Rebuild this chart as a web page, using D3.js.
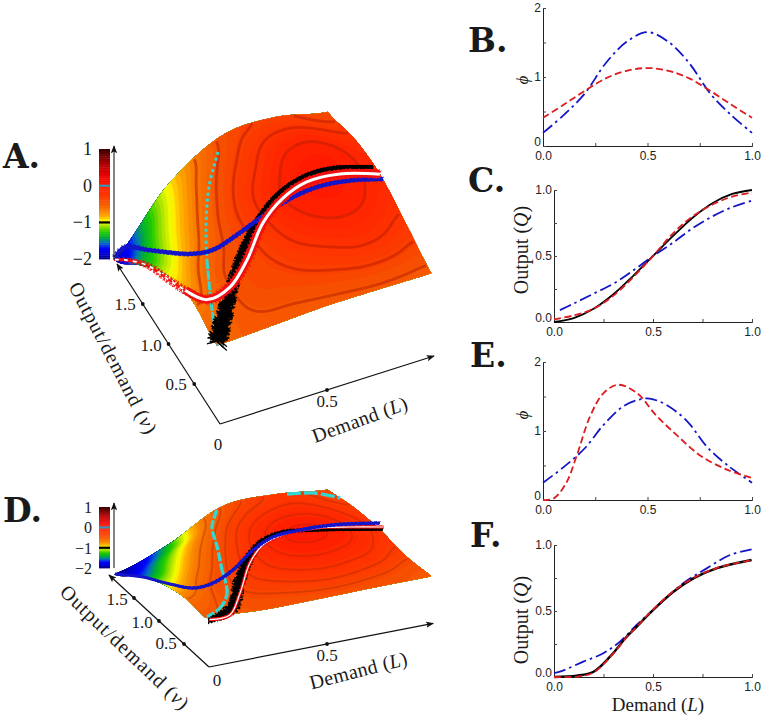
<!DOCTYPE html>
<html>
<head>
<meta charset="utf-8">
<script src="https://cdn.jsdelivr.net/npm/d3@7"></script>
<style>
  html, body { margin: 0; padding: 0; background: #fff; }
  svg { display: block; }
  text { fill: #1a1a1a; }
</style>
</head>
<body>
<svg width="762" height="716"></svg>
<script>
// ---- colour map of the two surfaces
const colorStops = [-2, -1.85, -1.7, -1.55, -1.4, -1.25, -1.1, -0.95, -0.85, -0.7, -0.47, -0.33, -0.2, -0.05, 0.05, 0.3, 0.6, 1];
const colorHex = ['#00006e', '#0000d8', '#0000ff', '#0070c0', '#00b030', '#22cc00', '#a0e000', '#ffff00',
                  '#ffb800', '#f98200', '#f65600', '#fa4000', '#ff3200', '#ff2400', '#ff1600', '#e80000', '#b00000', '#3c0000'];

// ---- panel A surface, rows go with nu, columns with L. height is above the -2 floor
const aHeight = [
  [2.03, 2.09, 2.16, 2.16, 2.14],
  [2.2, 2.5, 2.7, 2.65, 2.42],
  [1.8, 2.6, 3.0, 3.0, 2.66],
  [0.95, 2.1, 2.85, 2.95, 2.55],
  [0, 1.55, 2.43, 2.48, 2.16]
];
const aColor = [
  [-0.5, -0.5, -0.5, -0.5, -0.5, -0.5, -0.5, -0.5, -0.5],
  [-0.62, -0.5, -0.4, -0.37, -0.31, -0.26, -0.22, -0.25, -0.33],
  [-0.85, -0.52, -0.42, -0.3, -0.14, -0.06, -0.04, -0.08, -0.18],
  [-1.05, -0.72, -0.46, -0.27, -0.08, 0, 0.03, -0.02, -0.1],
  [-1.32, -0.92, -0.6, -0.36, -0.2, -0.05, -0.01, -0.03, -0.12],
  [-1.6, -1.15, -0.78, -0.5, -0.33, -0.2, -0.14, -0.17, -0.24],
  [-2, -1.42, -0.95, -0.66, -0.43, -0.35, -0.33, -0.36, -0.42]
];

// panel A trajectories
const aRedL = [0, 0, 0, 0, 0.01, 0.06, 0.171, 0.277, 0.408, 0.535, 0.668, 0.83, 1];
const aRedNu = [2.04, 1.85, 1.42, 0.97, 0.72, 0.5, 0.517, 0.627, 0.864, 1.0, 1.09, 1.12, 1.05];
const aRedH = [0.03, 0.44, 1.24, 1.8, 2.07, 2.2, 2.3, 2.6, 2.85, 3, 3, 2.85, 2.68];
const aRedSpread = [3, 5, 7, 8, 9, 11, 12, 12, 11, 10, 10, 10, 10];
const aBlueL = [0, 0, 0.008, 0.108, 0.18, 0.305, 0.444, 0.577, 0.709, 0.86, 1];
const aBlueNu = [2.04, 1.845, 1.39, 1.03, 0.884, 0.878, 0.934, 0.978, 1.003, 0.993, 0.99];
const aBlueH = [0.08, 0.8, 1.7, 2.2, 2.5, 2.75, 2.9, 3, 3, 2.9, 2.68];
const aBlueSpread = [7, 6, 5, 5, 5, 5, 5, 5, 5, 5, 5];
const aBlackL = [0.01, 0.075, 0.188, 0.286, 0.412, 0.539, 0.686, 0.813, 0.993];
const aBlackNu = [0.09, 0.254, 0.53, 0.744, 0.937, 1.073, 1.16, 1.183, 1.158];
const aBlackH = [2.03, 2.15, 2.35, 2.6, 2.85, 3, 3, 2.9, 2.65];
const aBlackSpread = [22, 19, 14, 10, 7, 5, 5, 5, 4];
const aCyanL = [0.453, 0.33, 0.208, 0.149, 0.088, 0.049, 0.005];
const aCyanNu = [1.92, 1.586, 1.138, 0.872, 0.559, 0.338, 0.058];
const aCyanH = [2.4, 2.4, 2.35, 2.3, 2.2, 2.1, 2.03];

// ---- panel D surface
const dHeight = [
  [2.28, 2.1, 2.1, 2.13, 2.13],
  [2.3, 2.25, 2.45, 2.4, 2.15],
  [1.93, 2.5, 2.85, 2.8, 2.45],
  [1.26, 2.2, 2.8, 2.8, 2.54],
  [0.32, 1.25, 2.6, 2.69, 2.41]
];
const dColor = [
  [-0.48, -0.47, -0.46, -0.45, -0.44, -0.44, -0.45, -0.46, -0.48],
  [-0.58, -0.46, -0.38, -0.33, -0.27, -0.24, -0.27, -0.33, -0.42],
  [-0.88, -0.52, -0.36, -0.22, -0.12, -0.08, -0.1, -0.16, -0.3],
  [-1.15, -0.75, -0.45, -0.25, -0.05, 0.03, 0.02, -0.08, -0.22],
  [-1.6, -1.05, -0.62, -0.36, -0.15, -0.04, -0.03, -0.1, -0.24],
  [-1.85, -1.45, -0.92, -0.52, -0.32, -0.2, -0.15, -0.2, -0.32],
  [-2, -1.8, -1.38, -0.75, -0.48, -0.36, -0.25, -0.27, -0.4]
];

// panel D trajectories
const dRedL = [0.005, 0.109, 0.223, 0.363, 0.463, 0.559, 0.71, 0.845, 0.98];
const dRedNu = [0.01, 0.095, 0.417, 0.849, 1.035, 1.071, 1.077, 1.035, 0.991];
const dRedH = [2.3, 2.1, 2.2, 2.4, 2.65, 2.85, 2.85, 2.7, 2.5];
const dRedSpread = [4, 4, 4, 4, 4, 3, 3, 3, 3];
const dBlueL = [0, 0, 0.01, 0.068, 0.155, 0.274, 0.415, 0.52, 0.642, 0.784, 0.985];
const dBlueNu = [1.88, 1.32, 0.89, 0.635, 0.637, 0.783, 1.015, 1.089, 1.1, 1.095, 1.074];
const dBlueH = [0.32, 1.44, 2.09, 2.3, 2.35, 2.4, 2.55, 2.8, 2.85, 2.8, 2.5];
const dBlueSpread = [2, 2, 2.5, 3.5, 4, 4, 4, 4, 4, 4, 4];
const dBlackL = [0, 0.151, 0.27, 0.442, 0.556, 0.701, 0.969];
const dBlackNu = [0, 0.228, 0.633, 1.056, 1.117, 1.042, 0.956];
const dBlackH = [2.28, 2.1, 2.25, 2.55, 2.85, 2.85, 2.5];
const dBlackSpread = [6, 14, 13, 9, 5, 3.5, 3.5];
const dCyanL = [0.459, 0.373, 0.308, 0.235, 0.173, 0.094, 0.007];
const dCyanNu = [1.878, 1.609, 1.233, 0.821, 0.444, 0.218, 0.073];
const dCyanH = [2.5, 2.45, 2.45, 2.4, 2.25, 2.2, 2.28];
const dCyanTopL = [0.771, 0.881, 0.964];
const dCyanTopNu = [1.862, 1.804, 1.681];
const dCyanTopH = [2.66, 2.6, 2.45];

// ---- 2d panels
const bL = [0, 0.1, 0.2, 0.3, 0.4, 0.5, 0.6, 0.7, 0.8, 0.9, 1];
const bBlue = [0.19, 0.45, 0.76, 1.2, 1.51, 1.65, 1.51, 1.2, 0.76, 0.45, 0.19];
const bRed = [0.41, 0.6, 0.8, 0.98, 1.09, 1.13, 1.09, 0.98, 0.8, 0.6, 0.41];

const cL = [0, 0.1, 0.2, 0.3, 0.4, 0.5, 0.6, 0.7, 0.8, 0.9, 1];
const cBlack = [0, 0.03, 0.1, 0.21, 0.35, 0.5, 0.65, 0.79, 0.9, 0.97, 1];
const cRed = [0.02, 0.05, 0.1, 0.2, 0.34, 0.5, 0.67, 0.8, 0.89, 0.95, 0.98];
const cBlueL = [0.03, 0.1, 0.2, 0.3, 0.4, 0.5, 0.6, 0.7, 0.8, 0.9, 1];
const cBlue = [0.09, 0.14, 0.215, 0.29, 0.39, 0.5, 0.6, 0.71, 0.8, 0.87, 0.92];

const eRedL = [0, 0.05, 0.11, 0.16, 0.225, 0.29, 0.36, 0.45, 0.54, 0.64, 0.75, 0.88, 1];
const eRed = [0, 0.02, 0.24, 0.63, 1.21, 1.55, 1.67, 1.55, 1.23, 0.94, 0.65, 0.44, 0.32];
const eBlueL = [0, 0.1, 0.2, 0.29, 0.385, 0.465, 0.51, 0.59, 0.69, 0.785, 0.88, 1];
const eBlue = [0.25, 0.48, 0.75, 1.09, 1.36, 1.46, 1.47, 1.38, 1.14, 0.77, 0.51, 0.25];

const fL = [0, 0.115, 0.2, 0.283, 0.367, 0.417, 0.5, 0.603, 0.704, 0.82, 0.998];
const fBlack = [0, 0.01, 0.04, 0.154, 0.305, 0.38, 0.507, 0.646, 0.747, 0.823, 0.886];
const fRedL = [0, 0.13, 0.2, 0.283, 0.367, 0.417, 0.5, 0.603, 0.704, 0.82, 0.998];
const fRed = [0, 0.005, 0.035, 0.15, 0.3, 0.38, 0.51, 0.65, 0.75, 0.825, 0.885];
const fBlueL = [0, 0.03, 0.148, 0.249, 0.333, 0.417, 0.5, 0.653, 0.771, 0.889, 0.998];
const fBlue = [0.03, 0.04, 0.116, 0.18, 0.268, 0.394, 0.507, 0.71, 0.823, 0.924, 0.967];

const phiTicks = [0, 0.5, 1, 1.5, 2];
const qTicks = [0, 0.25, 0.5, 0.75, 1];
const lTicks = [0, 0.25, 0.5, 0.75, 1];
const nuTicks = [0.5, 1, 1.5];
const barLabels = [1, 0, -1, -2];

const SERIF = '"Liberation Serif", "DejaVu Serif", serif';
const SANS = '"Liberation Sans", Arial, sans-serif';
const RED = '#dc1c20', BLUE = '#1414c8', CYAN = '#33d6d0';

const svg = d3.select('svg');
const defs = svg.append('defs');
defs.append('marker')
    .attr('id', 'arrow')
    .attr('viewBox', '0 0 10 10')
    .attr('refX', 9).attr('refY', 5)
    .attr('markerWidth', 8).attr('markerHeight', 8)
    .attr('markerUnits', 'userSpaceOnUse')
    .attr('orient', 'auto')
  .append('path')
    .attr('d', 'M0,1 L10,5 L0,9 L2,5 Z')
    .attr('fill', '#111');

const colorScale = d3.scaleLinear().domain(colorStops).range(colorHex).clamp(true);

// catmull-rom through a grid of read values, u and v in 0..1
function catmull(a, b, c, d, t) {
  return 0.5 * (2 * b + (c - a) * t + (2 * a - 5 * b + 4 * c - d) * t * t + (3 * b - a - 3 * c + d) * t * t * t);
}
function sampleGrid(grid, u, v) {
  const rows = grid.length, cols = grid[0].length;
  const fx = Math.min(u * (cols - 1), cols - 1.0001), fy = Math.min(v * (rows - 1), rows - 1.0001);
  const ix = Math.floor(fx), iy = Math.floor(fy);
  const at = (r, c) => grid[Math.max(0, Math.min(rows - 1, r))][Math.max(0, Math.min(cols - 1, c))];
  const row = r => catmull(at(r, ix - 1), at(r, ix), at(r, ix + 1), at(r, ix + 2), fx - ix);
  return catmull(row(iy - 1), row(iy), row(iy + 1), row(iy + 2), fy - iy);
}

function surfacePanel(p) {
  const g = svg.append('g');
  const lX = d3.scaleLinear([0, 1], [0, p.lVec[0]]);
  const lY = d3.scaleLinear([0, 1], [0, p.lVec[1]]);
  const nuX = d3.scaleLinear([0, 1], [0, p.nuVec[0]]);
  const nuY = d3.scaleLinear([0, 1], [0, p.nuVec[1]]);
  const hY = d3.scaleLinear([0, 3], [0, -3 * p.zUnit]);
  const project = (L, nu, h) => {
    const a = L * (1 - p.persp * nu);
    return [p.ox + lX(a) + nuX(nu), p.oy + lY(a) + nuY(nu) + hY(h)];
  };

  // surface, filled contour bands
  const nx = 150, ny = 120;
  const values = new Float64Array(nx * ny);
  for (let j = 0; j < ny; j++) {
    for (let i = 0; i < nx; i++) {
      values[i + j * nx] = sampleGrid(p.color, i / (nx - 1), j / (ny - 1));
    }
  }
  d3.blur2({ data: values, width: nx, height: ny }, p.blur);
  const toSurface = (cx, cy) => {
    const u = Math.max(0, Math.min(1, (cx - 0.5) / (nx - 1)));
    const v = Math.max(0, Math.min(1, (cy - 0.5) / (ny - 1)));
    return project(p.lRange[0] + u * (p.lRange[1] - p.lRange[0]),
                   p.nuRange[0] + v * (p.nuRange[1] - p.nuRange[0]),
                   sampleGrid(p.height, u, v));
  };
  const geo = d3.geoPath(d3.geoTransform({
    point(x, y) { const q = toSurface(x, y); this.stream.point(q[0], q[1]); }
  }));
  const bandTs = d3.range(-2.6, 1, 0.05);
  const bands = d3.contours().size([nx, ny]).thresholds(bandTs)(values);
  g.append('g').selectAll('path').data(bands).join('path')
      .attr('d', geo)
      .attr('fill', d => colorScale(d.value + 0.025))
      .attr('stroke', d => colorScale(d.value + 0.025))
      .attr('stroke-width', 0.3);

  // darker iso lines, without the part that runs along the edge of the surface
  const isoLine = d3.line();
  const iso = d3.contours().size([nx, ny]).thresholds(p.isoLevels)(values);
  const isoG = g.append('g').attr('fill', 'none')
      .attr('stroke', p.isoColor).attr('stroke-width', p.isoWidth).attr('stroke-linejoin', 'round');
  iso.forEach(level => {
    level.coordinates.forEach(poly => poly.forEach(ring => {
      const inside = q => q[0] > 0.6 && q[0] < nx - 0.6 && q[1] > 0.6 && q[1] < ny - 0.6;
      let runs = [], run = [];
      ring.forEach(q => {
        if (inside(q)) run.push(toSurface(q[0], q[1]));
        else { if (run.length > 1) runs.push(run); run = []; }
      });
      if (run.length > 1) runs.push(run);
      runs.forEach(r => isoG.append('path').attr('d', isoLine(r)));
    }));
  });

  // trajectories
  const curve = d3.line().curve(d3.curveCatmullRom.alpha(0.5));
  const pts = (L, nu, h) => L.map((d, i) => project(d, nu[i], h[i]));
  const hairy = (points, spread, color, sw, step) => {
    const guide = g.append('path').attr('d', curve(points)).attr('fill', 'none').attr('stroke', 'none');
    const node = guide.node(), len = node.getTotalLength();
    const chord = [0];
    points.slice(1).forEach((q, i) => chord.push(chord[i] + Math.hypot(q[0] - points[i][0], q[1] - points[i][1])));
    const widthAt = d3.scaleLinear().domain(chord.map(c => c / chord[chord.length - 1] * len)).range(spread);
    let d = '', k = 0;
    const tilt = [-0.55, 0.25, 0.6, -0.2], reach = [1, 0.72, 0.9, 0.62, 0.95];
    for (let s = 0; s < len; s += step, k++) {
      const a = node.getPointAtLength(s), b = node.getPointAtLength(Math.min(len, s + 0.5));
      const dx = b.x - a.x, dy = b.y - a.y, n = Math.hypot(dx, dy) || 1;
      const t = tilt[k % 4], w = widthAt(s) / 2 * reach[k % 5];
      const mx = -dy / n + t * dx / n, my = dx / n + t * dy / n;
      d += `M${(a.x - mx * w).toFixed(1)},${(a.y - my * w).toFixed(1)}L${(a.x + mx * w).toFixed(1)},${(a.y + my * w).toFixed(1)}`;
    }
    guide.remove();
    g.append('path').attr('d', d).attr('fill', 'none').attr('stroke', color).attr('stroke-width', sw);
  };

  const drawCyan = (points, dash) => g.append('path').attr('d', curve(points)).attr('fill', 'none')
      .attr('stroke', CYAN).attr('stroke-width', p.cyanWidth).attr('stroke-dasharray', dash);
  const cy = pts(p.cyan[0], p.cyan[1], p.cyan[2]);
  drawCyan(cy.slice(0, 4), p.cyanDash);
  drawCyan(cy.slice(3), p.cyanDashLow);
  if (p.cyanTop) drawCyan(pts(p.cyanTop[0], p.cyanTop[1], p.cyanTop[2]), '14 3');

  const black = pts(p.black[0], p.black[1], p.black[2]);
  hairy(black, p.black[3], '#000', 1.2, 0.8);
  hairy(black, p.black[3].map(d => d * 0.7), '#000', 1.4, 0.6);
  g.append('path').attr('d', curve(black)).attr('fill', 'none').attr('stroke', '#000').attr('stroke-width', p.blackCore);

  const drawBlue = () => {
    const blue = pts(p.blue[0], p.blue[1], p.blue[2]);
    hairy(blue, p.blue[3], BLUE, 1, 1);
    g.append('path').attr('d', curve(blue)).attr('fill', 'none').attr('stroke', BLUE).attr('stroke-width', p.blueCore);
  };
  const drawRed = () => {
    const red = pts(p.red[0], p.red[1], p.red[2]);
    hairy(red, p.red[3], '#f01010', 0.9, 1);
    g.append('path').attr('d', curve(red.slice(p.whiteFrom))).attr('fill', 'none').attr('stroke', '#f01010').attr('stroke-width', p.redCore);
    g.append('path').attr('d', curve(red.slice(p.whiteFrom))).attr('fill', 'none').attr('stroke', '#fff').attr('stroke-width', p.whiteWidth);
    if (p.whiteFrom > 0) {
      const start = curve(red.slice(0, p.whiteFrom + 1));
      g.append('path').attr('d', start).attr('fill', 'none').attr('stroke', '#f01010').attr('stroke-width', 2);
      g.append('path').attr('d', start).attr('fill', 'none')
          .attr('stroke', '#fff').attr('stroke-width', 1.8).attr('stroke-dasharray', '4 5');
    }
  };
  if (p.blueOnTop) { drawRed(); drawBlue(); } else { drawBlue(); drawRed(); }

  // base axes
  const axisG = g.append('g');
  const o = project(0, 0, 0);
  const lEnd = project(p.lAxisEnd, 0, 0), nuEnd = project(0, p.nuAxisEnd, 0);
  [lEnd, nuEnd].forEach(e => axisG.append('line')
      .attr('x1', o[0]).attr('y1', o[1]).attr('x2', e[0]).attr('y2', e[1])
      .attr('stroke', '#111').attr('stroke-width', 1.2).attr('marker-end', 'url(#arrow)'));
  const lTick = project(0.5, 0, 0);
  axisG.append('circle').attr('cx', lTick[0]).attr('cy', lTick[1]).attr('r', 1.9).attr('fill', '#111');
  axisG.selectAll('.nut').data(nuTicks).join('circle').attr('class', 'nut')
      .attr('cx', d => project(0, d, 0)[0]).attr('cy', d => project(0, d, 0)[1])
      .attr('r', 1.9).attr('fill', '#111');

  const label = (x, y, s, size, anchor) => g.append('text').attr('x', x).attr('y', y)
      .attr('font-family', SERIF).attr('font-size', size).attr('text-anchor', anchor || 'middle').text(s);
  nuTicks.forEach((d, i) => label(p.nuTickPos[i][0], p.nuTickPos[i][1], d3.format('.1f')(d), 17));
  label(p.lTickPos[0], p.lTickPos[1], '0.5', 17);
  label(p.zeroPos[0], p.zeroPos[1], '0', 17);

  const rotated = (c, angle, len, parts) => {
    const t = g.append('text')
        .attr('transform', `translate(${c[0]},${c[1]}) rotate(${angle})`)
        .attr('text-anchor', 'middle').attr('font-family', SERIF).attr('font-size', 20)
        .attr('textLength', len).attr('lengthAdjust', 'spacing');
    parts.forEach(q => t.append('tspan').attr('font-style', q[1] ? 'italic' : 'normal').text(q[0]));
  };
  rotated(p.nuLabel[0], p.nuLabel[1], p.nuLabel[2], [['Output/demand (', 0], ['ν', 1], [')', 0]]);
  rotated(p.lLabel[0], p.lLabel[1], p.lLabel[2], [['Demand (', 0], ['L', 1], [')', 0]]);

  // colour bar and z axis
  const barY = d3.scaleLinear([-2, 1], p.barRange);
  const steps = d3.range(-2, 1, 0.05);
  g.append('g').selectAll('rect').data(steps).join('rect')
      .attr('x', 99).attr('width', 11)
      .attr('y', d => barY(d + 0.05))
      .attr('height', d => barY(d) - barY(d + 0.05) + 0.4)
      .attr('fill', d => colorScale(d + 0.025));
  g.append('rect').attr('x', 99).attr('width', 11).attr('y', barY(0) - 1).attr('height', 2.2).attr('fill', '#3f8fb5');
  g.append('rect').attr('x', 99).attr('width', 11).attr('y', barY(-1) - 1).attr('height', 2.2).attr('fill', '#000');
  g.append('line').attr('x1', 114).attr('x2', 114).attr('y1', p.zAxis[0]).attr('y2', p.zAxis[1])
      .attr('stroke', '#333').attr('stroke-width', 1.2).attr('marker-end', 'url(#arrow)');
  barLabels.forEach(d => label(92, barY(d) + p.barTextDy, d < 0 ? '−' + Math.abs(d) : String(d), p.barFont, 'end'));
}

surfacePanel({
  ox: 220, oy: 424, lVec: [214, -68], nuVec: [-51.5, -80], zUnit: 36.5, persp: 0,
  lRange: [0, 1], nuRange: [0.06, 2.06], blur: 4,
  height: aHeight, color: aColor,
  isoLevels: [-0.65, -0.46, -0.33, -0.2, -0.055], isoColor: 'rgba(190,30,0,0.55)', isoWidth: 2.8,
  red: [aRedL, aRedNu, aRedH, aRedSpread], blue: [aBlueL, aBlueNu, aBlueH, aBlueSpread],
  black: [aBlackL, aBlackNu, aBlackH, aBlackSpread], cyan: [aCyanL, aCyanNu, aCyanH],
  blackCore: 4, blueCore: 4, redCore: 8, whiteWidth: 3, whiteFrom: 4, blueOnTop: false,
  cyanWidth: 3, cyanDash: '3 3', cyanDashLow: '9 1.5',
  lAxisEnd: 1, nuAxisEnd: 2,
  nuTickPos: [[176, 390], [151, 351], [125, 310]], lTickPos: [327, 407], zeroPos: [218, 450],
  nuLabel: [[107, 361], 62.5, 168], lLabel: [[362, 426], -20, 100],
  barRange: [259, 149], zAxis: [260, 146], barTextDy: 6, barFont: 18
});

surfacePanel({
  ox: 209, oy: 667, lVec: [236, -46], nuVec: [-50, -46], zUnit: 20.3, persp: 0.032,
  lRange: [0, 0.96], nuRange: [0.08, 1.88], blur: 5,
  height: dHeight, color: dColor,
  isoLevels: [-0.62, -0.48, -0.37, -0.28, -0.18, -0.08, 0], isoColor: 'rgba(175,40,0,0.42)', isoWidth: 1.8,
  red: [dRedL, dRedNu, dRedH, dRedSpread], blue: [dBlueL, dBlueNu, dBlueH, dBlueSpread],
  black: [dBlackL, dBlackNu, dBlackH, dBlackSpread], cyan: [dCyanL, dCyanNu, dCyanH],
  cyanTop: [dCyanTopL, dCyanTopNu, dCyanTopH],
  blackCore: 3, blueCore: 3, redCore: 3, whiteWidth: 1.2, whiteFrom: 0, blueOnTop: true,
  cyanWidth: 3.4, cyanDash: '9 2', cyanDashLow: '14 2',
  lAxisEnd: 0.95, nuAxisEnd: 2,
  nuTickPos: [[166, 649], [142, 628], [117, 605]], lTickPos: [327, 661], zeroPos: [217, 686],
  nuLabel: [[120, 652], 43.8, 170], lLabel: [[360, 677], -14.4, 100],
  barRange: [568, 507], zAxis: [568, 503], barTextDy: 6, barFont: 16
});

// ---- 2d line panels
function linePanel(box, yDomain, yTicks, yLabelVals, yFormat, series) {
  const x = d3.scaleLinear([0, 1], [box.x0, box.x1]);
  const y = d3.scaleLinear(yDomain, [box.y0, box.y1]);
  const g = svg.append('g');

  const xAxis = d3.axisBottom(x).tickValues(lTicks).tickSize(-3).tickPadding(5)
      .tickFormat(d => [0, 0.5, 1].includes(d) ? d3.format('.1f')(d) : '');
  const yAxis = d3.axisLeft(y).tickValues(yTicks).tickSize(-3).tickPadding(2)
      .tickFormat(d => yLabelVals.includes(d) ? yFormat(d) : '');
  const xG = g.append('g').attr('transform', `translate(0,${box.y0})`).call(xAxis);
  const yG = g.append('g').attr('transform', `translate(${box.x0},0)`).call(yAxis);
  [xG, yG].forEach(a => {
    a.selectAll('text').attr('font-family', SANS).attr('font-size', 12).style('fill', '#222');
    a.selectAll('.domain').attr('stroke', '#222');
    a.selectAll('line').attr('stroke', '#444');
  });
  // the zero label sits just above the 0.0 of the x axis
  yG.selectAll('.tick text').filter(d => d === 0).attr('dy', '-0.05em');

  const line = d3.line().curve(d3.curveCatmullRom.alpha(0.5));
  series.forEach(s => {
    g.append('path')
        .attr('d', line(s.xs.map((d, i) => [x(d), y(s.ys[i])])))
        .attr('fill', 'none').attr('stroke', s.color)
        .attr('stroke-width', s.width || 1.8)
        .attr('stroke-dasharray', s.dash || null);
  });
}

const dashRed = '7 3.5', dashBlue = '12 4 2.5 4';
const fmt0 = d3.format('d'), fmt1 = d3.format('.1f');

linePanel({ x0: 543, x1: 752, y0: 146, y1: 8 }, [0, 2], phiTicks, [0, 1, 2], fmt0, [
  { xs: bL, ys: bBlue, color: BLUE, dash: dashBlue },
  { xs: bL, ys: bRed, color: RED, dash: dashRed }
]);
linePanel({ x0: 554, x1: 752, y0: 322, y1: 190 }, [0, 1], qTicks, [0, 0.5, 1], fmt1, [
  { xs: cL, ys: cBlack, color: '#000' },
  { xs: cBlueL, ys: cBlue, color: BLUE, dash: dashBlue },
  { xs: cL, ys: cRed, color: RED, dash: dashRed }
]);
linePanel({ x0: 543, x1: 752, y0: 500, y1: 362 }, [0, 2], phiTicks, [0, 1, 2], fmt0, [
  { xs: eBlueL, ys: eBlue, color: BLUE, dash: dashBlue },
  { xs: eRedL, ys: eRed, color: RED, dash: dashRed }
]);
linePanel({ x0: 554, x1: 752, y0: 677, y1: 545 }, [0, 1], qTicks, [0, 0.5, 1], fmt1, [
  { xs: fBlueL, ys: fBlue, color: BLUE, dash: dashBlue },
  { xs: fL, ys: fBlack, color: '#000', width: 2.4 },
  { xs: fRedL, ys: fRed, color: RED, dash: dashRed }
]);

// ---- text around the panels
function sideLabel(x, y, parts, size) {
  const t = svg.append('text').attr('transform', `translate(${x},${y}) rotate(-90)`)
      .attr('text-anchor', 'middle').attr('font-family', SERIF).attr('font-size', size);
  parts.forEach(q => t.append('tspan').attr('font-style', q[1] ? 'italic' : 'normal').text(q[0]));
}
sideLabel(528, 80, [['ϕ', 1]], 17);
sideLabel(528, 415, [['ϕ', 1]], 17);
sideLabel(528, 250, [['Output (', 0], ['Q', 1], [')', 0]], 20);
sideLabel(528, 620, [['Output (', 0], ['Q', 1], [')', 0]], 20);

const bottom = svg.append('text').attr('x', 658).attr('y', 711).attr('text-anchor', 'middle')
    .attr('font-family', SERIF).attr('font-size', 19);
[['Demand (', 0], ['L', 1], [')', 0]].forEach(q => bottom.append('tspan')
    .attr('font-style', q[1] ? 'italic' : 'normal').text(q[0]));

const panelLetters = ['A.', 'B.', 'C.', 'D.', 'E.', 'F.'];
const letterX = [3, 468, 468, 3, 470, 470];
const letterY = [168, 52, 192, 522, 367, 547];
svg.selectAll('.letter').data(panelLetters).join('text').attr('class', 'letter')
    .attr('x', (d, i) => letterX[i]).attr('y', (d, i) => letterY[i])
    .attr('font-family', '"DejaVu Serif", serif').attr('font-weight', 'bold').attr('font-size', 33)
    .text(d => d);
</script>
</body>
</html>
